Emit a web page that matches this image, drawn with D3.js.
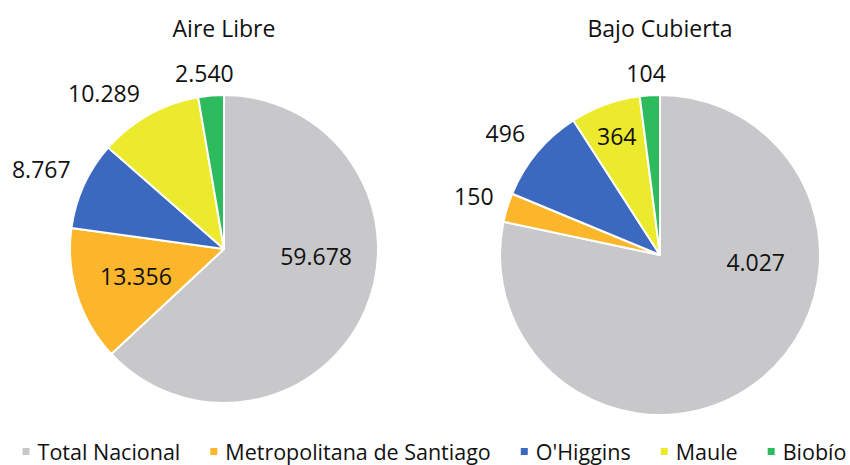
<!DOCTYPE html>
<html>
<head>
<meta charset="utf-8">
<script src="https://cdn.jsdelivr.net/npm/d3@7"></script>
<style>
    body { margin: 0; background: #fff; }
    svg { display: block; font-family: "Open Sans", sans-serif; }
</style>
</head>
<body>
<div id="chart"></div>
<script>
// regions shown in the legend, same order in both pies
const categories = ["Total Nacional", "Metropolitana de Santiago", "O'Higgins", "Maule", "Biobío"];
const aireLibre = [59678, 13356, 8767, 10289, 2540];
const bajoCubierta = [4027, 150, 496, 364, 104];
const chartTitles = ["Aire Libre", "Bajo Cubierta"];
const colors = ["#c8c8ca", "#fbb62c", "#3b69c0", "#ecea2c", "#2ebb5e"];

function createPieCharts() {
    let width = 850,
        height = 465;

    let svg;
    // each pie: centre, radius and which labels Excel put inside the slice
    let pies = [
        { title: chartTitles[0], values: aireLibre, cx: 224, cy: 249, r: 154, inside: [true, true, false, false, false] },
        { title: chartTitles[1], values: bajoCubierta, cx: 660, cy: 255, r: 160, inside: [true, false, false, true, false] }
    ];

    let locale = d3.formatLocale({ decimal: ",", thousands: ".", grouping: [3], currency: ["$", ""] });
    let fmt = locale.format(",d");
    let color = d3.scaleOrdinal().domain(categories).range(colors);

    createSVG();
    pies.forEach(drawPie);
    drawLegend();

    function createSVG() {
        svg = d3.select("#chart")
            .append("svg")
            .attr("width", width)
            .attr("height", height)
    }

    // angle measured clockwise from 12 o'clock, like d3.pie
    function angleOf(x, y) {
        let a = Math.atan2(x, -y);
        return a < 0 ? a + 2 * Math.PI : a;
    }

    function polar(a, r) {
        return [Math.sin(a) * r, -Math.cos(a) * r];
    }

    function drawPie(p) {
        let g = svg.append("g")
            .attr("transform", "translate(" + p.cx + "," + p.cy + ")");

        let pie = d3.pie().sort(null).value(function (d) { return d; });
        let arc = d3.arc().innerRadius(0).outerRadius(p.r);
        let arcs = pie(p.values);

        g.selectAll(".slice")
            .data(arcs)
            .enter().append("path")
            .attr("class", "slice")
            .attr("d", arc)
            .attr("fill", function (d, i) { return color(categories[i]); })
            .attr("stroke", "#fff")
            .attr("stroke-width", 2)
            .attr("stroke-linejoin", "round")

        svg.append("text")
            .attr("x", p.cx)
            .attr("y", 37)
            .attr("text-anchor", "middle")
            .style("font-size", "23px")
            .style("fill", "#111")
            .text(p.title)

        let labels = g.selectAll(".lbl")
            .data(arcs)
            .enter().append("text")
            .attr("class", "lbl")
            .attr("text-anchor", "middle")
            .attr("dy", "0.36em")
            .style("font-size", "23px")
            .style("fill", "#111")
            .text(function (d) { return fmt(d.value); })

        labels.each(function (d, i) {
            let w = this.getComputedTextLength();
            let pos;
            if (p.inside[i]) {
                // big slices: keep label in the first half-turn of the slice
                let end = d.endAngle - d.startAngle > Math.PI ? d.startAngle + Math.PI * 1.05 : d.endAngle;
                let mid = (d.startAngle + end) / 2;
                let hw = w / 2 + 5, hh = 13;
                pos = polar(mid, p.r * 0.6);
                for (let k = 0.6; k <= 0.9; k += 0.01) {
                    let c = polar(mid, p.r * k);
                    let ok = [[-1, -1], [1, -1], [-1, 1], [1, 1]].every(function (s) {
                        let x = c[0] + s[0] * hw, y = c[1] + s[1] * hh;
                        let a = angleOf(x, y);
                        return a >= d.startAngle && a <= d.endAngle && Math.hypot(x, y) <= p.r;
                    });
                    if (ok) { pos = c; break; }
                }
            } else {
                // outside: push the label box away from the rim point
                let mid = (d.startAngle + d.endAngle) / 2;
                let hw = w / 2 + 6, hh = 14;
                let sx = Math.sin(mid), sy = -Math.cos(mid);
                let rim = polar(mid, p.r + 8);
                pos = [
                    rim[0] + Math.sign(sx) * Math.min(1, Math.abs(sx) * 2) * hw,
                    rim[1] + Math.sign(sy) * Math.min(1, Math.abs(sy) * 2) * hh
                ];
            }
            d3.select(this).attr("x", pos[0]).attr("y", pos[1]);
        });
    }

    function drawLegend() {
        let legend = svg.append("g").attr("class", "legend");
        let x = 0;
        let items = legend.selectAll(".item")
            .data(categories)
            .enter().append("g")
            .attr("class", "item")

        items.append("rect")
            .attr("y", -4)
            .attr("width", 7)
            .attr("height", 7)
            .attr("fill", function (d) { return color(d); })

        items.append("text")
            .attr("x", 15)
            .attr("dy", "0.36em")
            .style("font-size", "21.5px")
            .style("fill", "#111")
            .text(function (d) { return d; })

        items.each(function () {
            let w = d3.select(this).select("text").node().getComputedTextLength();
            d3.select(this).attr("transform", "translate(" + x + ",0)");
            x += 15 + w + 30;
        });
        let total = x - 30;
        legend.attr("transform", "translate(" + (434.5 - total / 2) + ",452)");
    }
}

document.addEventListener("DOMContentLoaded", createPieCharts);
</script>
</body>
</html>
